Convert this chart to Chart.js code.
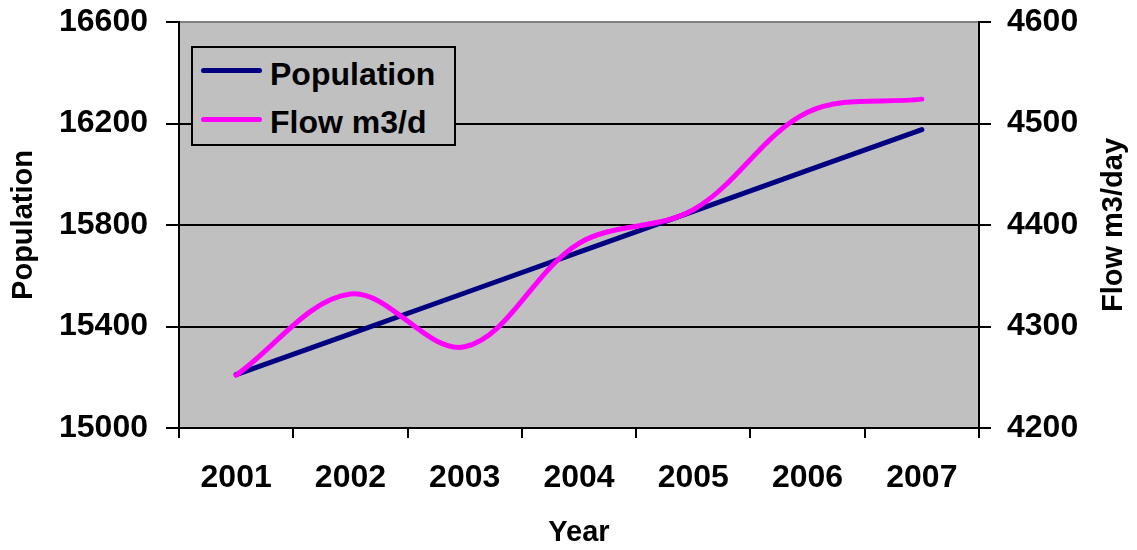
<!DOCTYPE html>
<html>
<head>
<meta charset="utf-8">
<script src="https://cdn.jsdelivr.net/npm/chart.js@4.4.1/dist/chart.umd.min.js"></script>
<style>
  body { margin: 0; background: #fff; }
  #wrap { position: relative; width: 1137px; height: 550px; }
  #legend {
    position: absolute; left: 191px; top: 46px; width: 265px; height: 100px;
    box-sizing: border-box; border: 2px solid #000; background: #c0c0c0;
    font: bold 32px "Liberation Sans", Arial, sans-serif; line-height: 32px; color: #000;
  }
  #legend .ln { position: absolute; left: 8px; width: 61px; height: 5px; border-radius: 3px; }
  #legend .tx { position: absolute; left: 77px; white-space: nowrap; }
</style>
</head>
<body>
<div id="wrap">
  <canvas id="chart" width="1137" height="550"></canvas>
  <div id="legend">
    <div class="ln" style="top:20px;background:#000080"></div>
    <div class="tx" style="top:10px">Population</div>
    <div class="ln" style="top:69px;background:#ff00ff"></div>
    <div class="tx" style="top:58px">Flow m3/d</div>
  </div>
</div>
<script>
const years = ['2001', '2002', '2003', '2004', '2005', '2006', '2007'];
const population = [15210, 15371, 15532, 15693, 15854, 16015, 16176];
const flow = [4252, 4332, 4280, 4382, 4415, 4511, 4524];

const FONT = '"Liberation Sans", Arial, sans-serif';

const plotBg = {
    id: 'plotBg',
    beforeDraw(chart) {
        const a = chart.chartArea;
        const ctx = chart.ctx;
        ctx.save();
        ctx.fillStyle = '#c0c0c0';
        ctx.fillRect(a.left, a.top, a.right - a.left, a.bottom - a.top);
        ctx.restore();
    }
};

// right axis title reads bottom-to-top in the original
const rightTitle = {
    id: 'rightTitle',
    afterDraw(chart) {
        const a = chart.chartArea;
        const ctx = chart.ctx;
        ctx.save();
        ctx.translate(1114, (a.top + a.bottom) / 2);
        ctx.rotate(-Math.PI / 2);
        ctx.font = 'bold 29px ' + FONT;
        ctx.fillStyle = '#000';
        ctx.textAlign = 'center';
        ctx.textBaseline = 'middle';
        ctx.fillText('Flow m3/day', 0, 0);
        ctx.restore();
    }
};

function noPad(s) {
    s.paddingTop = 0;
    s.paddingBottom = 0;
}

new Chart(document.getElementById('chart'), {
    type: 'line',
    data: {
        labels: years,
        datasets: [{
            label: 'Population',
            data: population,
            yAxisID: 'y',
            borderColor: '#000080',
            borderWidth: 5,
            borderCapStyle: 'round',
            pointRadius: 0,
            tension: 0,
            order: 1
        }, {
            label: 'Flow m3/d',
            data: flow,
            yAxisID: 'y1',
            borderColor: '#ff00ff',
            borderWidth: 5,
            borderCapStyle: 'round',
            pointRadius: 0,
            tension: 0.35,
            order: 0
        }]
    },
    options: {
        responsive: false,
        devicePixelRatio: 1,
        animation: false,
        layout: { padding: { top: 22, left: 0, right: 0, bottom: 0 } },
        plugins: {
            legend: { display: false },
            tooltip: { enabled: false }
        },
        scales: {
            x: {
                offset: true,
                grid: { offset: true, drawOnChartArea: false, tickLength: 10, color: '#000', lineWidth: 2 },
                border: { color: '#000', width: 2 },
                ticks: { color: '#000', font: { family: FONT, size: 32, weight: 'bold' }, padding: 21, maxRotation: 0 },
                title: { display: true, text: 'Year', color: '#000', font: { family: FONT, size: 29, weight: 'bold' }, padding: { top: 0, bottom: 0 } },
                afterFit: s => { s.height = 122; }
            },
            y: {
                position: 'left',
                min: 15000,
                max: 16600,
                ticks: { stepSize: 400, color: '#000', font: { family: FONT, size: 32, weight: 'bold' }, padding: 18, callback: v => String(v) },
                grid: {
                    color: c => (c.tick && c.tick.value === 16600) ? '#808080' : '#000',
                    tickColor: '#000',
                    lineWidth: 2,
                    tickLength: 13
                },
                border: { color: '#000', width: 2 },
                title: { display: true, text: 'Population', color: '#000', font: { family: FONT, size: 29, weight: 'bold' }, padding: 7 },
                afterFit: s => { s.width = 179; noPad(s); }
            },
            y1: {
                position: 'right',
                min: 4200,
                max: 4600,
                ticks: { stepSize: 100, color: '#000', font: { family: FONT, size: 32, weight: 'bold' }, padding: 16, callback: v => String(v) },
                grid: { drawOnChartArea: false, color: '#000', lineWidth: 2, tickLength: 12 },
                border: { color: '#000', width: 2 },
                title: { display: false },
                afterFit: s => { s.width = 158; noPad(s); }
            }
        }
    },
    plugins: [plotBg, rightTitle]
});
</script>
</body>
</html>
